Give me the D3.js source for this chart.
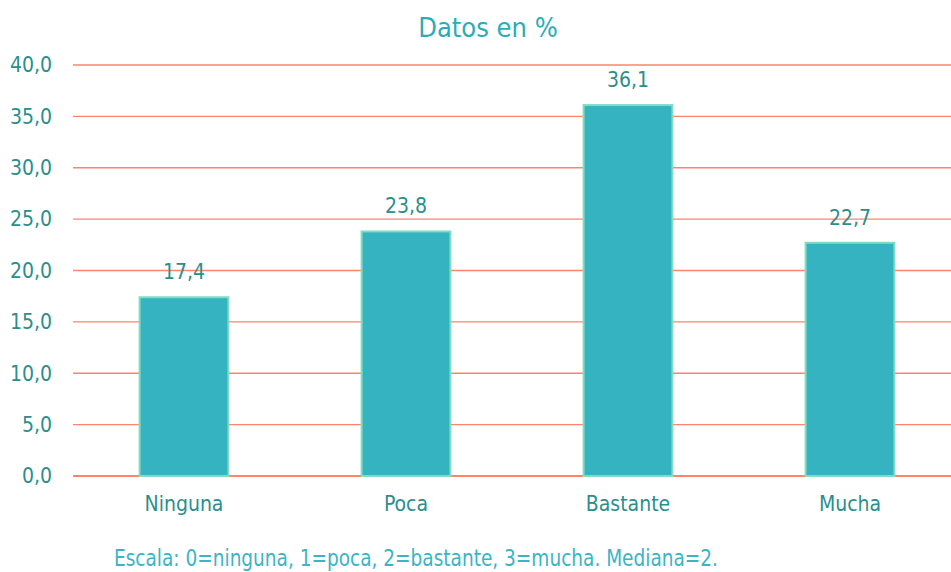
<!DOCTYPE html>
<html><head><meta charset="utf-8">
<script src="https://cdn.jsdelivr.net/npm/d3@7"></script>
<style>
body{margin:0;background:#fff;}
text{font-family:"DejaVu Sans Condensed","Liberation Sans Narrow","Roboto Condensed",sans-serif;font-stretch:condensed;}
</style></head>
<body><svg id="c" width="951" height="572"></svg>
<script>
const categories = ["Ninguna","Poca","Bastante","Mucha"];
const values = [17.4, 23.8, 36.1, 22.7];
const yTicks = [0,5,10,15,20,25,30,35,40];
const title = "Datos en %";
const footer = "Escala: 0=ninguna, 1=poca, 2=bastante, 3=mucha. Mediana=2.";

const svg = d3.select("#c");
const fmt = v => d3.format(".1f")(v).replace(".", ",");
const x = d3.scaleBand().domain(categories).range([73, 961]).paddingInner(0.6).paddingOuter(0.3);
const y = d3.scaleLinear().domain([0,40]).range([476, 65]);

svg.append("text").attr("x", 488).attr("y", 37).attr("text-anchor","middle")
  .attr("font-size", 27).attr("fill", "#2AADB8").text(title);

const grid = svg.append("g");
grid.selectAll("line").data(yTicks).join("line")
  .attr("x1", 73).attr("x2", 951)
  .attr("y1", d => y(d)).attr("y2", d => y(d))
  .attr("stroke", "#FF8468").attr("stroke-width", d => d===0 ? 2 : 1.3);

svg.append("g").selectAll("text").data(yTicks).join("text")
  .attr("x", 52).attr("y", d => y(d)).attr("dy","0.35em").attr("text-anchor","end")
  .attr("font-size", 21).attr("fill", "#2A8F8C").text(d => fmt(d));

svg.append("g").selectAll("rect").data(values).join("rect")
  .attr("x", (d,i) => x(categories[i])).attr("width", x.bandwidth())
  .attr("y", d => y(d)).attr("height", d => y(0) - y(d))
  .attr("fill", "#35B3C1").attr("stroke", "#80DDC2").attr("stroke-width", 2);

svg.append("g").selectAll("text").data(values).join("text")
  .attr("x", (d,i) => x(categories[i]) + x.bandwidth()/2).attr("y", d => y(d) - 18)
  .attr("text-anchor","middle").attr("font-size", 21).attr("fill", "#2A8F8C").text(d => fmt(d));

svg.append("g").selectAll("text").data(categories).join("text")
  .attr("x", d => x(d) + x.bandwidth()/2).attr("y", 511)
  .attr("text-anchor","middle").attr("font-size", 21).attr("fill", "#2A8F8C").text(d => d);

svg.append("text").attr("x", 114).attr("y", 566).attr("font-size", 23)
  .attr("textLength", 604).attr("lengthAdjust", "spacingAndGlyphs")
  .attr("fill", "#3BB4C5").text(footer);
</script></body></html>
